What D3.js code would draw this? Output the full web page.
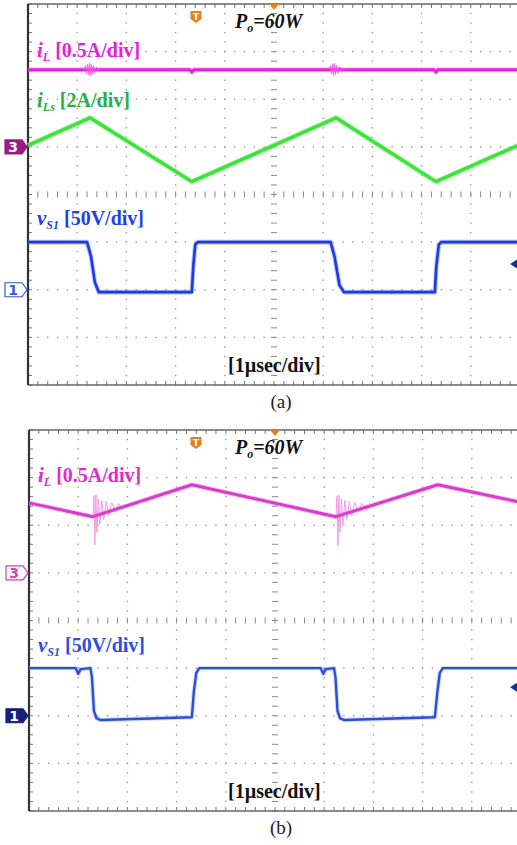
<!DOCTYPE html>
<html>
<head>
<meta charset="utf-8">
<script src="https://cdn.jsdelivr.net/npm/d3@7"></script>
<style>
  body { margin: 0; background: #fff; }
  svg { display: block; }
</style>
</head>
<body>
<div id="container"></div>
<script>
// time axis in divisions (1 div = 1 usec), vertical in divisions
const timeDivs = d3.range(0, 11);
const levelDivs = d3.range(-4, 5);

// panel (a) traces, [time div, level div]
const iL_a = [[0,2.62],[3.29,2.62],[3.33,2.57],[3.37,2.62],[8.25,2.62],[8.29,2.57],[8.33,2.62],[10,2.62]];
const iLburst1_a = [[1.14,2.62],[1.17,2.7],[1.19,2.54],[1.21,2.73],[1.23,2.52],[1.25,2.75],[1.27,2.5],[1.29,2.73],[1.31,2.53],[1.33,2.7],[1.36,2.56],[1.39,2.67],[1.43,2.6],[1.47,2.62]];
const iLburst2_a = [[6.12,2.62],[6.15,2.7],[6.17,2.54],[6.19,2.74],[6.21,2.51],[6.23,2.75],[6.25,2.52],[6.27,2.71],[6.3,2.55],[6.33,2.68],[6.37,2.58],[6.41,2.64],[6.45,2.62]];
const iLs_a = [[0,1.03],[1.26,1.61],[3.33,0.27],[6.26,1.61],[8.29,0.27],[10,1.05]];
const vS1_a = [[0,-1.0],[1.2,-1.0],[1.28,-1.3],[1.36,-1.85],[1.44,-2.05],[3.33,-2.05],[3.36,-1.5],[3.4,-1.05],[3.45,-1.0],
  [6.15,-1.0],[6.23,-1.3],[6.33,-1.9],[6.42,-2.05],[8.27,-2.05],[8.3,-1.5],[8.35,-1.05],[8.4,-1.0],[10,-1.0]];

// panel (b) traces
const iL_b = [[0,2.47],[1.3,2.18],[3.31,2.85],[6.24,2.18],[8.31,2.85],[10,2.48]];
const iLring1_b = [[1.3,2.18],[1.32,2.62],[1.34,1.59],[1.36,2.64],[1.38,1.85],[1.41,2.55],[1.44,2.02],[1.48,2.52],[1.52,2.12],[1.57,2.5],[1.62,2.2],[1.68,2.48],[1.75,2.28],[1.82,2.46],[1.9,2.33],[2.0,2.43]];
const iLring2_b = [[6.24,2.18],[6.26,2.62],[6.28,1.57],[6.3,2.63],[6.32,1.85],[6.35,2.55],[6.38,2.02],[6.42,2.52],[6.46,2.12],[6.51,2.5],[6.56,2.2],[6.62,2.48],[6.69,2.28],[6.76,2.46],[6.84,2.33],[6.94,2.42]];
const vS1_b = [[0,-1.0],[0.95,-1.0],[1.0,-1.12],[1.05,-1.02],[1.25,-1.0],[1.28,-1.2],[1.32,-1.9],[1.37,-2.05],[1.45,-2.09],[3.31,-2.03],[3.35,-1.5],[3.4,-1.1],[3.46,-1.0],
  [5.93,-1.0],[5.98,-1.12],[6.03,-1.02],[6.2,-1.0],[6.23,-1.2],[6.27,-1.9],[6.32,-2.05],[6.4,-2.09],[8.25,-2.03],[8.3,-1.5],[8.35,-1.1],[8.41,-1.0],[10,-1.0]];

// channel ground offsets (divisions)
const ch3Offset = 1;
const ch1Offset = -2;

const W = 517, H = 845;
const svg = d3.select('#container').append('svg')
  .attr('width', W).attr('height', H);

function drawPanel(p) {
  const g = svg.append('g');
  const x = d3.scaleLinear().domain([0, 10]).range([p.left, p.left + 492]);
  const y = d3.scaleLinear().domain([-4, 4]).range([p.top + 381, p.top]);
  const minorX = d3.range(0, 10.001, 0.2);
  const minorY = d3.range(-4, 4.001, 0.2);

  // dotted grid
  timeDivs.filter(d => d > 0 && d < 10 && d !== 5).forEach(d => {
    g.selectAll(null).data(minorY.filter(v => v > -4 && v < 4)).enter().append('rect')
      .attr('x', x(d) - 0.7).attr('y', v => y(v) - 0.7).attr('width', 1.4).attr('height', 1.4)
      .attr('fill', '#9a9a9a');
  });
  levelDivs.filter(d => d > -4 && d < 4 && d !== 0).forEach(d => {
    g.selectAll(null).data(minorX.filter(v => v > 0 && v < 10)).enter().append('rect')
      .attr('x', v => x(v) - 0.7).attr('y', y(d) - 0.7).attr('width', 1.4).attr('height', 1.4)
      .attr('fill', '#9a9a9a');
  });

  // center axes with minor ticks
  g.selectAll(null).data(minorX).enter().append('line')
    .attr('x1', v => x(v)).attr('x2', v => x(v))
    .attr('y1', y(0) - 3).attr('y2', y(0) + 3)
    .attr('stroke', '#8a8a8a').attr('stroke-width', 1);
  g.selectAll(null).data(minorY).enter().append('line')
    .attr('y1', v => y(v)).attr('y2', v => y(v))
    .attr('x1', x(5) - 3).attr('x2', x(5) + 3)
    .attr('stroke', '#8a8a8a').attr('stroke-width', 1);

  // border ticks
  g.selectAll(null).data(minorX).enter().append('line')
    .attr('x1', v => x(v)).attr('x2', v => x(v))
    .attr('y1', y(4)).attr('y2', y(4) + 4)
    .attr('stroke', '#777').attr('stroke-width', 1);
  g.selectAll(null).data(minorX).enter().append('line')
    .attr('x1', v => x(v)).attr('x2', v => x(v))
    .attr('y1', y(-4)).attr('y2', y(-4) - 4)
    .attr('stroke', '#777').attr('stroke-width', 1);
  g.selectAll(null).data(minorY).enter().append('line')
    .attr('y1', v => y(v)).attr('y2', v => y(v))
    .attr('x1', x(0)).attr('x2', x(0) + 4)
    .attr('stroke', '#777').attr('stroke-width', 1);

  // frame
  g.append('line').attr('x1', x(0)).attr('x2', x(10)).attr('y1', y(4)).attr('y2', y(4))
    .attr('stroke', '#666').attr('stroke-width', 1.5);
  g.append('line').attr('x1', x(0)).attr('x2', x(10)).attr('y1', y(-4)).attr('y2', y(-4))
    .attr('stroke', '#666').attr('stroke-width', 1.5);
  g.append('line').attr('x1', x(0)).attr('x2', x(0)).attr('y1', y(4)).attr('y2', y(-4))
    .attr('stroke', '#333').attr('stroke-width', 2.2);

  const line = d3.line().x(d => x(d[0])).y(d => y(d[1]));

  // traces
  p.traces.forEach(t => {
    if (t.fuzz) {
      g.append('path').attr('d', line(t.data)).attr('fill', 'none')
        .attr('stroke', t.fuzz).attr('stroke-width', t.width + 2).attr('stroke-opacity', 0.45)
        .attr('stroke-linejoin', 'round');
    }
    g.append('path').attr('d', line(t.data)).attr('fill', 'none')
      .attr('stroke', t.color).attr('stroke-width', t.width)
      .attr('stroke-opacity', t.opacity || 1)
      .attr('stroke-linejoin', 'round');
  });

  // trigger markers
  const tx = 196, ty = p.top + 7;
  g.append('path')
    .attr('d', `M${tx - 5.5},${ty} h11 v8 l-5.5,4 l-5.5,-4 z`)
    .attr('fill', '#e8801a');
  g.append('text').attr('x', tx).attr('y', ty + 9).attr('text-anchor', 'middle')
    .attr('font-family', 'DejaVu Sans, sans-serif').attr('font-weight', 'bold')
    .attr('font-size', 9).attr('fill', '#fff').text('T');
  g.append('path')
    .attr('d', `M${x(5) - 5},${p.top} h10 l-5,6 z`).attr('fill', '#e8801a');

  // channel ground markers
  p.markers.forEach(m => {
    const my = y(m.level), r = x(0) - 1;
    g.append('path')
      .attr('d', `M${r - 22},${my - 7} h17 l5,7 l-5,7 h-17 z`)
      .attr('fill', m.filled ? m.color : '#fff')
      .attr('stroke', m.color).attr('stroke-width', 1.2);
    g.append('text').attr('x', r - 14).attr('y', my + 5.5).attr('text-anchor', 'middle')
      .attr('font-family', 'DejaVu Sans, sans-serif').attr('font-weight', 'bold')
      .attr('font-size', 14).attr('fill', m.filled ? '#fff' : m.color).text(m.label);
  });

  // right-side level arrow
  g.append('path')
    .attr('d', `M${510},${y(p.arrowLevel)} l7,-4.5 v9 z`).attr('fill', '#1a2f9a');

  // labels
  const serif = 'Liberation Serif, Times New Roman, serif';
  function label(lx, ly, color, main, sub, rest) {
    const t = g.append('text').attr('x', lx).attr('y', ly)
      .attr('font-family', serif).attr('font-weight', 'bold')
      .attr('font-size', 20).attr('fill', color);
    t.append('tspan').attr('font-style', 'italic').attr('font-size', 21).text(main);
    t.append('tspan').attr('font-style', 'italic').attr('font-size', 12).attr('dy', 4).text(sub);
    t.append('tspan').attr('dy', -4).text(rest);
  }
  p.labels.forEach(l => label(p.left + 9, l.y, l.color, l.main, l.sub, l.rest));

  const po = g.append('text').attr('x', 235).attr('y', p.top + 24)
    .attr('font-family', serif).attr('font-weight', 'bold').attr('font-style', 'italic')
    .attr('font-size', 20).attr('fill', '#111');
  po.append('tspan').text('P');
  po.append('tspan').attr('font-size', 12).attr('dy', 4).text('o');
  po.append('tspan').attr('dy', -4).text('=60W');

  g.append('text').attr('x', 228).attr('y', p.top + 368)
    .attr('font-family', serif).attr('font-weight', 'bold')
    .attr('font-size', 20).attr('fill', '#111').text('[1\u00b5sec/div]');

  g.append('text').attr('x', 281).attr('y', p.top + 404).attr('text-anchor', 'middle')
    .attr('font-family', serif).attr('font-size', 19).attr('fill', '#222').text(p.caption);
}

drawPanel({
  left: 28, top: 4, caption: '(a)', arrowLevel: -1.46,
  traces: [
    { data: iL_a, color: '#ee1ee0', width: 3, fuzz: '#f46ef0' },
    { data: iLburst1_a, color: '#f050e4', width: 1.2, opacity: 0.8 },
    { data: iLburst2_a, color: '#f050e4', width: 1.2, opacity: 0.8 },
    { data: iLs_a, color: '#3ee23a', width: 3.5, fuzz: '#7cf07a' },
    { data: vS1_a, color: '#1a3be6', width: 2.6, fuzz: '#5a78f0' }
  ],
  markers: [
    { level: ch3Offset, label: '3', color: '#9c1a84', filled: true },
    { level: ch1Offset, label: '1', color: '#3a5ad8', filled: false }
  ],
  labels: [
    { y: 57, color: '#e81ed8', main: 'i', sub: 'L', rest: ' [0.5A/div]' },
    { y: 107, color: '#24b048', main: 'i', sub: 'Ls', rest: ' [2A/div]' },
    { y: 225, color: '#1e42e6', main: 'v', sub: 'S1', rest: ' [50V/div]' }
  ]
});

drawPanel({
  left: 29, top: 430, caption: '(b)', arrowLevel: -1.4,
  traces: [
    { data: iLring1_b, color: '#f49ae8', width: 1 },
    { data: iLring2_b, color: '#f49ae8', width: 1 },
    { data: iL_b, color: '#d73ccb', width: 3, fuzz: '#ea8ae0' },
    { data: vS1_b, color: '#2c4fd6', width: 2.4, fuzz: '#9bb0f0' }
  ],
  markers: [
    { level: ch3Offset, label: '3', color: '#d040c0', filled: false },
    { level: ch1Offset, label: '1', color: '#15207a', filled: true }
  ],
  labels: [
    { y: 482, color: '#e02ad4', main: 'i', sub: 'L', rest: ' [0.5A/div]' },
    { y: 652, color: '#2c50dc', main: 'v', sub: 'S1', rest: ' [50V/div]' }
  ]
});
</script>
</body>
</html>
